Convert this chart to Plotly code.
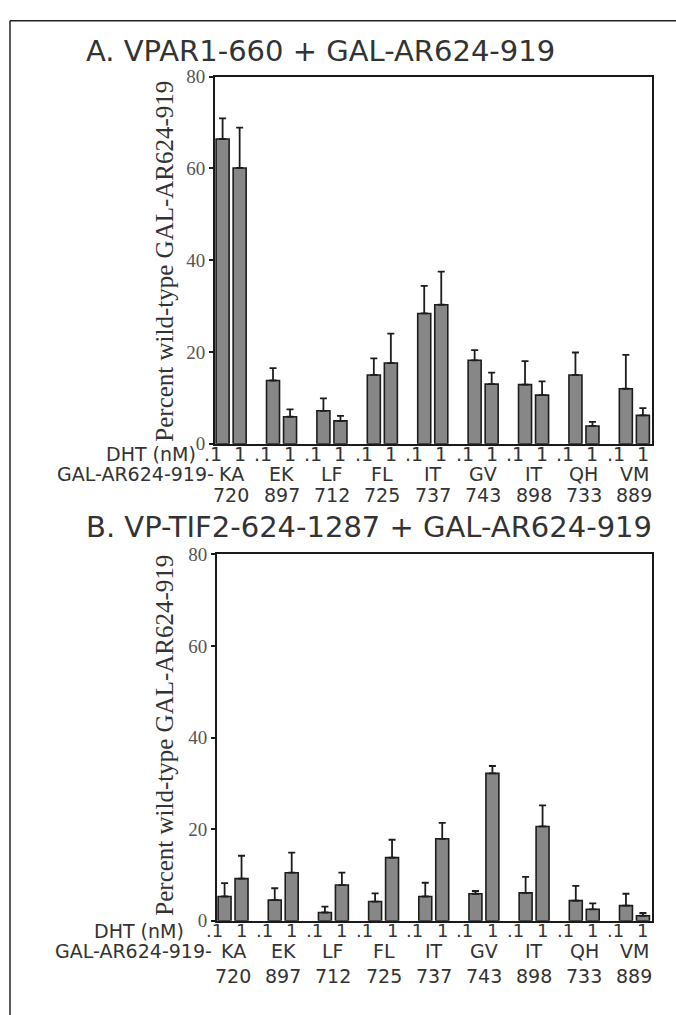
import plotly.graph_objects as go

# ---------------- data ----------------
residues = ["KA", "EK", "LF", "FL", "IT", "GV", "IT", "QH", "VM"]
positions = ["720", "897", "712", "725", "737", "743", "898", "733", "889"]
dht_labels = [".1", "1"]

# Panel A: VPAR1-660 + GAL-AR624-919
a_low = [66.4, 13.8, 7.2, 15.0, 28.4, 18.2, 12.9, 15.0, 12.0]
a_low_err = [4.5, 2.7, 2.7, 3.6, 6.0, 2.2, 5.1, 4.9, 7.4]
a_high = [60.1, 5.9, 5.0, 17.6, 30.3, 13.0, 10.6, 3.9, 6.2]
a_high_err = [8.8, 1.6, 1.1, 6.4, 7.2, 2.5, 3.0, 0.9, 1.6]

# Panel B: VP-TIF2-624-1287 + GAL-AR624-919
b_low = [5.3, 4.5, 1.8, 4.2, 5.3, 5.9, 6.1, 4.4, 3.3]
b_low_err = [2.9, 2.6, 1.3, 1.8, 3.0, 0.6, 3.5, 3.2, 2.6]
b_high = [9.2, 10.5, 7.8, 13.8, 17.9, 32.2, 20.6, 2.5, 1.1]
b_high_err = [5.0, 4.4, 2.7, 3.9, 3.5, 1.6, 4.6, 1.3, 0.6]

y_ticks = [0, 20, 40, 60, 80]
title_a = "A. VPAR1-660 + GAL-AR624-919"
title_b = "B. VP-TIF2-624-1287 + GAL-AR624-919"
y_title = "Percent wild-type GAL-AR624-919"
row_dht = "DHT (nM)"
row_gal = "GAL-AR624-919-"

# ---------------- layout helpers ----------------
W, H = 676, 1015
def px(x):
    return x / W
def py(y):
    return 1 - y / H

cats = [r + p for r, p in zip(residues, positions)]
BARGAP = 0.324
BARGROUPGAP = 0.236
slot = (1 - BARGAP) / 2

BAR_FILL = "#878787"
BAR_LINE = "#1c1c1c"
TXT = "#333333"
SANS = "DejaVu Sans"
SERIF = "Liberation Serif"

fig = go.Figure()

panels = [
    dict(low=a_low, lowe=a_low_err, high=a_high, highe=a_high_err, xa="x", ya="y",
         xdom=(215, 652), ytop=68, ybot=443, title=title_a, title_y=42, ytitle_y=257,
         dht_y=453, gal_y=474, num_y=495, dht_right=198, gal_right=216, dshift=1, dsize=19),
    dict(low=b_low, lowe=b_low_err, high=b_high, highe=b_high_err, xa="x2", ya="y2",
         xdom=(217, 652), ytop=556, ybot=930, title=title_b, title_y=528, ytitle_y=741,
         dht_y=940, gal_y=961, num_y=986, dht_right=186, gal_right=214, dshift=0, dsize=18),
]

annotations = []
for k, p in enumerate(panels):
    for vals, errs in ((p["low"], p["lowe"]), (p["high"], p["highe"])):
        fig.add_trace(go.Bar(
            x=cats, y=vals, xaxis=p["xa"], yaxis=p["ya"],
            marker=dict(color=BAR_FILL, line=dict(color=BAR_LINE, width=1.6)),
            error_y=dict(type="data", array=errs, arrayminus=[0] * len(errs),
                         symmetric=False, color=BAR_LINE, thickness=1.8, width=3.5),
            showlegend=False, hoverinfo="skip",
        ))
    xref = p["xa"]
    # panel title
    annotations.append(dict(text=p["title"], x=px(84), y=py(p["title_y"]), xref="paper", yref="paper",
                            xanchor="left", yanchor="middle", showarrow=False,
                            font=dict(family=SANS, size=29, color=TXT)))
    # y title
    annotations.append(dict(text=y_title, x=px(165), y=py(p["ytitle_y"]),
                            xref="paper", yref="paper", textangle=-90,
                            xanchor="center", yanchor="middle", showarrow=False,
                            font=dict(family=SERIF, size=25, color=TXT)))
    # row labels
    annotations.append(dict(text=row_dht, x=px(p["dht_right"]), y=py(p["dht_y"]), xref="paper", yref="paper",
                            xanchor="right", yanchor="middle", showarrow=False,
                            font=dict(family=SANS, size=19, color=TXT)))
    annotations.append(dict(text=row_gal, x=px(p["gal_right"]), y=py(p["gal_y"]), xref="paper", yref="paper",
                            xanchor="right", yanchor="middle", showarrow=False,
                            font=dict(family=SANS, size=19, color=TXT)))
    for i in range(len(cats)):
        # ".1" ends under the low-dose bar, "1" centred under the high-dose bar
        annotations.append(dict(text=dht_labels[0], x=i - 0.5 * slot, y=py(p["dht_y"]),
                                xref=xref, yref="paper", xanchor="right", yanchor="middle",
                                xshift=p["dshift"], showarrow=False,
                                font=dict(family=SANS, size=p["dsize"], color=TXT)))
        annotations.append(dict(text=dht_labels[1], x=i + 0.5 * slot, y=py(p["dht_y"]),
                                xref=xref, yref="paper", xanchor="center", yanchor="middle",
                                showarrow=False, font=dict(family=SANS, size=p["dsize"], color=TXT)))
        annotations.append(dict(text=residues[i], x=i, y=py(p["gal_y"]), xref=xref, yref="paper",
                                xanchor="center", yanchor="middle", showarrow=False,
                                font=dict(family=SANS, size=19, color=TXT)))
        annotations.append(dict(text=positions[i], x=i, y=py(p["num_y"]), xref=xref, yref="paper",
                                xanchor="center", yanchor="middle", showarrow=False,
                                font=dict(family=SANS, size=19, color=TXT)))

axis_common = dict(showline=True, linecolor="#1a1a1a", linewidth=2, mirror=True,
                   showgrid=False, zeroline=False)

layout_axes = {}
for k, p in enumerate(panels):
    sx = "" if k == 0 else "2"
    layout_axes["xaxis" + sx] = dict(axis_common, type="category", domain=[px(p["xdom"][0]), px(p["xdom"][1])],
                                     range=[-0.32, 8.35], showticklabels=False, ticks="",
                                     anchor="y" + sx)
    layout_axes["yaxis" + sx] = dict(axis_common, domain=[py(p["ybot"]), py(p["ytop"])],
                                     range=[0, 80], tickvals=y_ticks, ticks="outside", ticklen=4,
                                     tickcolor="#1a1a1a", tickwidth=1.5,
                                     tickfont=dict(family=SERIF, size=19, color="#555555"),
                                     anchor="x" + sx)

fig.update_layout(
    width=W, height=H,
    margin=dict(l=0, r=0, t=0, b=0),
    paper_bgcolor="white", plot_bgcolor="white",
    barmode="group", bargap=BARGAP, bargroupgap=BARGROUPGAP,
    annotations=annotations,
    shapes=[
        dict(type="line", xref="paper", yref="paper", x0=px(10), x1=px(10), y0=py(11), y1=py(1030),
             line=dict(color="#222222", width=1.5)),
        dict(type="line", xref="paper", yref="paper", x0=px(10), x1=px(690), y0=py(11), y1=py(11),
             line=dict(color="#222222", width=1.5)),
    ],
    **layout_axes,
)

fig.write_html("out.html", config={"displayModeBar": False},
               post_script="document.body.style.margin='0px';")
